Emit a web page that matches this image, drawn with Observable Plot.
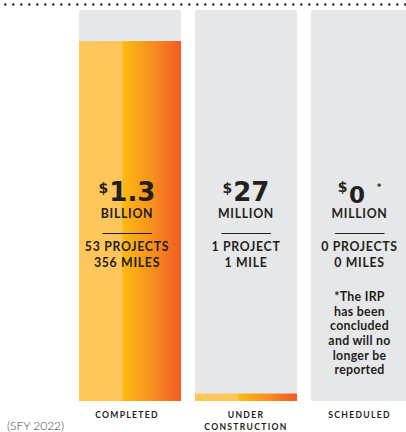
<!DOCTYPE html>
<html><head><meta charset="utf-8">
<script src="https://cdn.jsdelivr.net/npm/d3@7"></script>
<script src="https://cdn.jsdelivr.net/npm/@observablehq/plot@0.6"></script>
<style>
html,body{margin:0;padding:0;background:#fff;overflow:hidden;}
#chart svg{display:block;}
</style></head><body><div id="chart"></div>
<script>
// ---- data ----
const categories = ["COMPLETED", "UNDER\nCONSTRUCTION", "SCHEDULED"];
const amounts = [1300, 27, 0]; // $ millions
const amountText = ["1.3", "27", "0"];
const amountUnits = ["BILLION", "MILLION", "MILLION"];
const projectCounts = ["53 PROJECTS", "1 PROJECT", "0 PROJECTS"];
const mileCounts = ["356 MILES", "1 MILE", "0 MILES"];
const footnotes = ["", "", "*The IRP\nhas been\nconcluded\nand will no\nlonger be\nreported"];
const scaleMax = 1412; // top of the grey tracks (estimated)
const periodLabel = ["(SFY 2022)"];

const rows = categories.map((c, i) => ({
  category: c, amount: amounts[i], amountText: amountText[i], unit: amountUnits[i],
  stats: projectCounts[i] + "\n" + mileCounts[i], footnote: footnotes[i], max: scaleMax
}));

// ---- styles ----
const ink = "#231F20";
const colShift = [-3.5, -0.5, -3];
const capsFont = "Lato, 'Noto Sans', sans-serif";

const textMarks = [];
rows.forEach((r, i) => {
  const d = [r];
  const dx = colShift[i];
  textMarks.push(
    Plot.text(d, {x: "category", text: v => "$" + v.amountText + (v.amount === 0 ? "*" : ""),
      frameAnchor: "top", lineAnchor: "bottom", dy: 190, dx, fill: ink, fontWeight: 700,
      fontSize: r.amount === 0 ? 23 : 26, fontFamily: "'DejaVu Sans', sans-serif", ariaDescription: "amount"}),
    Plot.text(d, {x: "category", text: "unit", frameAnchor: "top", lineAnchor: "bottom", dy: 207.5, dx,
      fill: ink, fontWeight: 700, fontSize: 12.3, fontFamily: capsFont, ariaDescription: "caps"}),
    Plot.text(d, {x: "category", text: () => "__________", frameAnchor: "top", lineAnchor: "bottom", dy: 220, dx,
      fill: ink, fontWeight: 700, fontSize: 10.8, fontFamily: "'DejaVu Sans', sans-serif", ariaDescription: "rule"}),
    Plot.text(d, {x: "category", text: "stats", frameAnchor: "top", lineAnchor: "bottom", dy: 256, dx,
      lineHeight: 1.24, fill: ink, fontWeight: 700, fontSize: 12.3, fontFamily: capsFont, ariaDescription: "caps"}),
    Plot.text(d, {x: "category", text: "footnote", frameAnchor: "top", lineAnchor: "top", dy: 280.3, dx,
      lineHeight: 1.187, fill: ink, fontWeight: 700, fontSize: 12.3, fontFamily: capsFont, ariaDescription: "note"}),
    Plot.text(d, {x: "category", text: "category", frameAnchor: "bottom", lineAnchor: "top", dy: 7.4, dx,
      lineHeight: 1.45, fill: ink, fontWeight: 700, fontSize: 8.6, fontFamily: capsFont, ariaDescription: "label"})
  );
});

const svg = Plot.plot({
  width: 406,
  height: 432,
  marginTop: 10,
  marginBottom: 31,
  marginLeft: 0,
  marginRight: 0,
  style: {fontFamily: capsFont, background: "#fff", overflow: "hidden"},
  x: {type: "band", domain: categories, range: [79, 413], paddingInner: 14 / 116, paddingOuter: 0, align: 0, axis: null},
  y: {domain: [0, scaleMax], axis: null},
  marks: [
    Plot.ruleY([scaleMax], {dy: -6, stroke: "#2b2b2b", strokeWidth: 2.6, strokeDasharray: "0 8",
      strokeLinecap: "round", strokeDashoffset: 2.7}),
    Plot.barY(rows, {x: "category", y: "max", fill: "#E6E7E8"}),
    Plot.barY(rows, {x: "category", y: "amount", fill: "url(#orangeGrad)"}),
    ...textMarks,
    Plot.text(periodLabel, {text: d => d, frameAnchor: "bottom-left", textAnchor: "start", lineAnchor: "bottom",
      dx: 6.5, dy: 28.5, fill: "#444", fontSize: 12, fontWeight: 300, fontFamily: "Lato, sans-serif"})
  ]
});

// gradient definition
const defs = d3.select(svg).insert("defs", ":first-child");
const grad = defs.append("linearGradient").attr("id", "orangeGrad")
  .attr("x1", 0).attr("x2", 1).attr("y1", 0).attr("y2", 0);
[[0, "#FFC75C"], [0.42, "#FEC55A"], [0.43, "#FDB913"], [0.7, "#F7931E"], [1, "#F15A24"]]
  .forEach(([o, c]) => grad.append("stop").attr("offset", o).attr("stop-color", c));

// letter spacing
const sel = name => d3.select(svg).selectAll(`g[aria-description="${name}"] text`);
sel("caps").style("letter-spacing", "0.7px");
sel("note").style("letter-spacing", "0.3px");
sel("label").style("letter-spacing", "1.3px");
sel("rule").style("letter-spacing", "-0.5px");

// dollar superscripts
sel("amount").each(function () {
  const t = this.textContent;
  const star = t.endsWith("*");
  const num = t.slice(1, star ? -1 : undefined);
  const el = d3.select(this);
  el.text("");
  if (star) {
    el.append("tspan").attr("font-size", 14).attr("dy", -9).text("$");
    el.append("tspan").attr("font-size", 23).attr("dy", 11.5).attr("dx", 1.5).text(num);
    el.append("tspan").attr("font-size", 8).attr("dy", -13.5).attr("dx", 12).text("*");
  } else {
    el.append("tspan").attr("font-size", 14).attr("dy", -8).text("$");
    el.append("tspan").attr("font-size", 26).attr("dy", 8).attr("dx", 1).text(num);
  }
});

document.getElementById("chart").appendChild(svg);
</script></body></html>
